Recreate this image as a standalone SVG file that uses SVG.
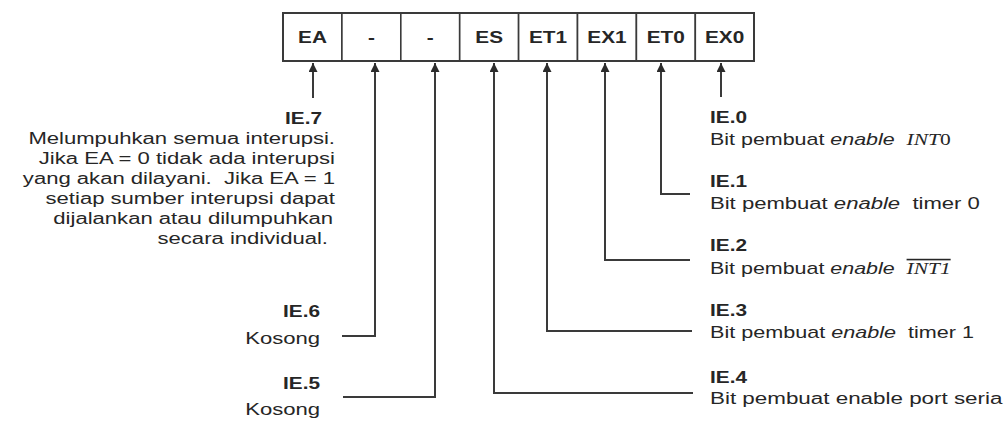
<svg xmlns="http://www.w3.org/2000/svg" width="1008" height="423" viewBox="0 0 1008 423">
<style>
.t{font-family:"Liberation Sans",Arial,sans-serif;font-size:16px;fill:#262626}
.b{font-weight:bold}
.e{text-anchor:end}
.m{text-anchor:middle}
.i{font-style:italic}
.s{font-family:"Liberation Serif","Times New Roman",serif;font-style:italic}
.ln{stroke:#3a3a3a;stroke-width:2;fill:none}
.cell{fill:#fff;stroke:#3a3a3a;stroke-width:1.6}
</style>
<defs>
<marker id="ah" viewBox="0 0 10 10" markerWidth="10" markerHeight="9" refX="10" refY="5" orient="auto" markerUnits="userSpaceOnUse">
<path d="M0,0 L10,5 L0,10 z" fill="#2b2b2b"/>
</marker>
</defs>
<rect width="1008" height="423" fill="#fff"/>
<g id="register">
<rect class="cell" x="283" y="13" width="58.9" height="48"/>
<rect class="cell" x="341.9" y="13" width="58.9" height="48"/>
<rect class="cell" x="400.8" y="13" width="58.9" height="48"/>
<rect class="cell" x="459.7" y="13" width="58.9" height="48"/>
<rect class="cell" x="518.6" y="13" width="58.9" height="48"/>
<rect class="cell" x="577.5" y="13" width="58.9" height="48"/>
<rect class="cell" x="636.4" y="13" width="58.9" height="48"/>
<rect class="cell" x="695.3" y="13" width="58.7" height="48"/>
<rect x="283" y="13" width="471" height="48" fill="none" stroke="#3a3a3a" stroke-width="2"/>
<text class="t b m" transform="translate(312.5 43) scale(1.3 1)">EA</text>
<text class="t b m" transform="translate(371.4 43) scale(1.3 1)">-</text>
<text class="t b m" transform="translate(430.3 43) scale(1.3 1)">-</text>
<text class="t b m" transform="translate(489.2 43) scale(1.3 1)">ES</text>
<text class="t b m" transform="translate(548 43) scale(1.3 1)">ET1</text>
<text class="t b m" transform="translate(607 43) scale(1.3 1)">EX1</text>
<text class="t b m" transform="translate(665.8 43) scale(1.3 1)">ET0</text>
<text class="t b m" transform="translate(724.6 43) scale(1.3 1)">EX0</text>
</g>
<g id="connectors">
<path class="ln" d="M313 98 V63" marker-end="url(#ah)"/>
<path class="ln" d="M342 336 H375 V63" marker-end="url(#ah)"/>
<path class="ln" d="M343 397 H435 V63" marker-end="url(#ah)"/>
<path class="ln" d="M693 393 H494 V63" marker-end="url(#ah)"/>
<path class="ln" d="M692 331 H547 V63" marker-end="url(#ah)"/>
<path class="ln" d="M690 260 H605 V63" marker-end="url(#ah)"/>
<path class="ln" d="M690 194 H661 V63" marker-end="url(#ah)"/>
<path class="ln" d="M721 97 V63" marker-end="url(#ah)"/>
</g>
<g id="ie7">
<text class="t b e" transform="translate(322 124) scale(1.3 1)">IE.7</text>
<text class="t e" transform="translate(335 144) scale(1.38 1)">Melumpuhkan semua interupsi.</text>
<text class="t e" transform="translate(335 164) scale(1.38 1)">Jika EA = 0 tidak ada interupsi</text>
<text class="t e" transform="translate(335 184) scale(1.38 1)" xml:space="preserve">yang akan dilayani.  Jika EA = 1</text>
<text class="t e" transform="translate(335 204) scale(1.38 1)">setiap sumber interupsi dapat</text>
<text class="t e" transform="translate(333 224) scale(1.38 1)">dijalankan atau dilumpuhkan</text>
<text class="t e" transform="translate(328 244) scale(1.38 1)">secara individual.</text>
</g>
<g id="ie6">
<text class="t b e" transform="translate(320 317) scale(1.3 1)">IE.6</text>
<text class="t e" transform="translate(320 344) scale(1.38 1)">Kosong</text>
</g>
<g id="ie5">
<text class="t b e" transform="translate(320 389) scale(1.3 1)">IE.5</text>
<text class="t e" transform="translate(320 415) scale(1.38 1)">Kosong</text>
</g>
<g id="ie0">
<text class="t b" transform="translate(710 123) scale(1.3 1)">IE.0</text>
<text class="t" transform="translate(710 145) scale(1.34 1)" xml:space="preserve">Bit pembuat <tspan class="i">enable</tspan>  <tspan class="s">INT</tspan><tspan font-family="Liberation Serif">0</tspan></text>
</g>
<g id="ie1">
<text class="t b" transform="translate(710 187) scale(1.3 1)">IE.1</text>
<text class="t" transform="translate(710 209) scale(1.38 1)" xml:space="preserve">Bit pembuat <tspan class="i">enable</tspan>  timer 0</text>
</g>
<g id="ie2">
<text class="t b" transform="translate(710 251) scale(1.3 1)">IE.2</text>
<text class="t" transform="translate(710 274) scale(1.34 1)" xml:space="preserve">Bit pembuat <tspan class="i">enable</tspan>  <tspan class="s" text-decoration="overline">INT1</tspan></text>
</g>
<g id="ie3">
<text class="t b" transform="translate(710 316) scale(1.3 1)">IE.3</text>
<text class="t" transform="translate(710 338) scale(1.35 1)" xml:space="preserve">Bit pembuat <tspan class="i">enable</tspan>  timer 1</text>
</g>
<g id="ie4">
<text class="t b" transform="translate(710 383) scale(1.3 1)">IE.4</text>
<text class="t" transform="translate(710 404) scale(1.4 1)">Bit pembuat enable port seria</text>
</g>
</svg>
